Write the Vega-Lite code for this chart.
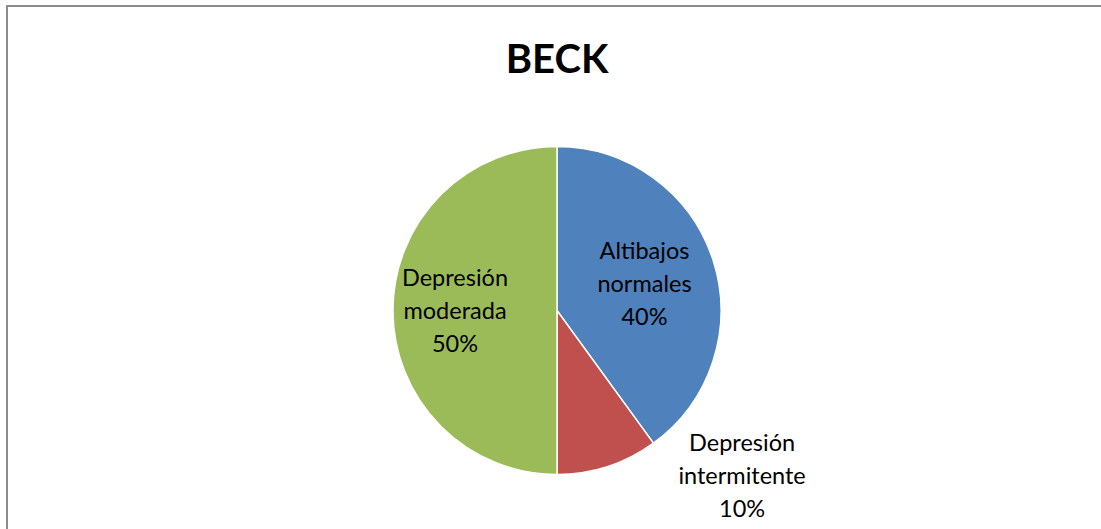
{
  "$schema": "https://vega.github.io/schema/vega-lite/v6.json",
  "width": 1101,
  "height": 529,
  "autosize": {"type": "fit", "contains": "padding"},
  "padding": {"left": 7, "top": 0, "right": -6, "bottom": -86},
  "background": "white",
  "view": {"stroke": "#8c8c8c", "strokeWidth": 2},
  "config": {
    "view": {"stroke": "#8c8c8c", "strokeWidth": 2},
    "font": "Lato"
  },
  "datasets": {
    "beck": [
      {"categoria": "Altibajos normales", "valor": 40, "etiqueta": "Altibajos\nnormales\n40%"},
      {"categoria": "Depresión intermitente", "valor": 10, "etiqueta": "Depresión\nintermitente\n10%"},
      {"categoria": "Depresión moderada", "valor": 50, "etiqueta": "Depresión\nmoderada\n50%"}
    ],
    "titulo": [{"titulo": "BECK"}]
  },
  "layer": [
    {
      "data": {"name": "beck"},
      "mark": {"type": "arc", "outerRadius": 164, "stroke": "white", "strokeWidth": 1.5},
      "encoding": {
        "theta": {"field": "valor", "type": "quantitative", "stack": true},
        "order": {"field": "categoria", "type": "nominal", "sort": "ascending"},
        "color": {
          "field": "categoria",
          "type": "nominal",
          "scale": {"domain": ["Altibajos normales", "Depresión intermitente", "Depresión moderada"], "range": ["#4F81BD", "#C0504D", "#9BBB59"]},
          "legend": null
        }
      }
    },
    {
      "data": {"name": "beck"},
      "mark": {"type": "text", "radius": 92, "dy": -30, "fontSize": 23.5, "lineBreak": "\n", "lineHeight": 33, "baseline": "middle", "align": "center", "color": "#000000"},
      "encoding": {
        "theta": {"field": "valor", "type": "quantitative", "stack": true},
        "order": {"field": "categoria", "type": "nominal", "sort": "ascending"},
        "text": {"condition": {"test": "datum.categoria === 'Altibajos normales'", "field": "etiqueta"}, "value": ""}
      }
    },
    {
      "data": {"name": "beck"},
      "mark": {"type": "text", "radius": 102, "dy": -32, "fontSize": 23.5, "lineBreak": "\n", "lineHeight": 33, "baseline": "middle", "align": "center", "color": "#000000"},
      "encoding": {
        "theta": {"field": "valor", "type": "quantitative", "stack": true},
        "order": {"field": "categoria", "type": "nominal", "sort": "ascending"},
        "text": {"condition": {"test": "datum.categoria === 'Depresión moderada'", "field": "etiqueta"}, "value": ""}
      }
    },
    {
      "data": {"name": "beck"},
      "mark": {"type": "text", "radius": 175, "dx": 131, "dy": -33, "fontSize": 23.5, "lineBreak": "\n", "lineHeight": 33, "baseline": "middle", "align": "center", "color": "#000000"},
      "encoding": {
        "theta": {"field": "valor", "type": "quantitative", "stack": true},
        "order": {"field": "categoria", "type": "nominal", "sort": "ascending"},
        "text": {"condition": {"test": "datum.categoria === 'Depresión intermitente'", "field": "etiqueta"}, "value": ""}
      }
    },
    {
      "data": {"name": "titulo"},
      "mark": {"type": "text", "radius": 238, "fontSize": 40, "fontWeight": "bold", "baseline": "alphabetic", "align": "center", "color": "#000000"},
      "encoding": {
        "theta": {"value": 0},
        "text": {"field": "titulo", "type": "nominal"}
      }
    }
  ]
}
